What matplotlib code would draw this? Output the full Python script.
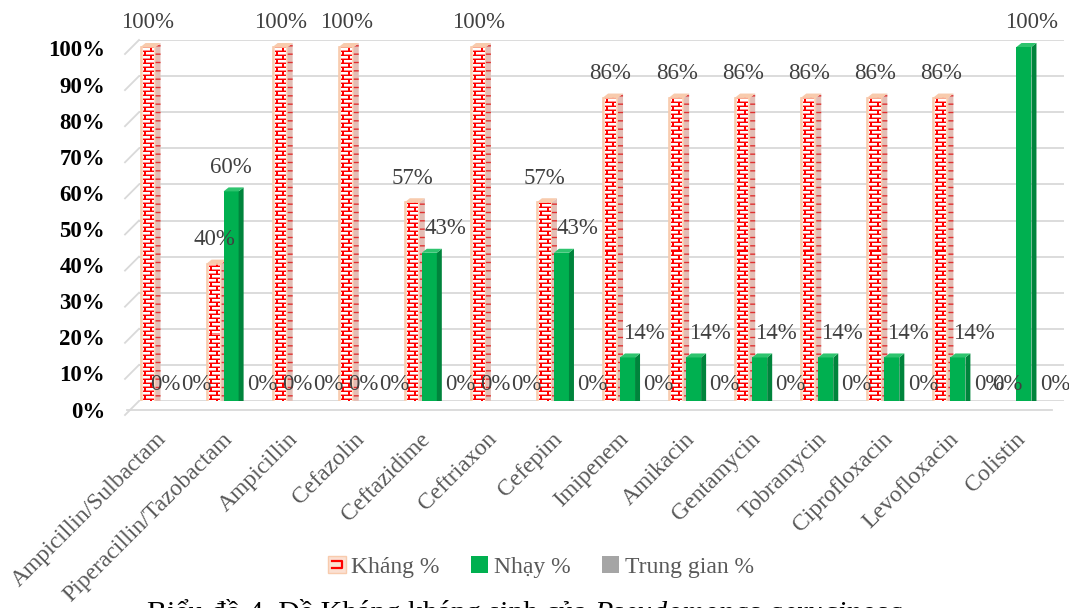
import numpy as np
import matplotlib
matplotlib.use("Agg")
import matplotlib.pyplot as plt
from matplotlib.patches import Polygon, Rectangle
from matplotlib.legend_handler import HandlerBase

# ---- data -------------------------------------------------------------
antibiotics = ["Ampicillin/Sulbactam", "Piperacillin/Tazobactam", "Ampicillin",
               "Cefazolin", "Ceftazidime", "Ceftriaxon", "Cefepim", "Imipenem",
               "Amikacin", "Gentamycin", "Tobramycin", "Ciprofloxacin",
               "Levofloxacin", "Colistin"]
khang = [100, 40, 100, 100, 57, 100, 57, 86, 86, 86, 86, 86, 86, 0]
nhay = [0, 60, 0, 0, 43, 0, 43, 14, 14, 14, 14, 14, 14, 100]
trung_gian = [0, 0, 0, 0, 0, 0, 0, 0, 0, 0, 0, 0, 0, 0]
series_names = ["Kháng %", "Nhạy %", "Trung gian %"]
y_ticks = [0, 10, 20, 30, 40, 50, 60, 70, 80, 90, 100]
caption_plain = "Biểu đồ 4. Đề Kháng kháng sinh của "
caption_italic = "Pseudomonas aeruginosa"

SERIF = "Liberation Serif"
W, H = 1069, 608
fig = plt.figure(figsize=(W / 100, H / 100), dpi=100)

# back wall of the 3-D plot area (pixel geometry)
left_px, right_px, zero_px, top_px = 139, 1064, 401, 40
ax = fig.add_axes([left_px / W, (H - zero_px) / H,
                   (right_px - left_px) / W, (zero_px - top_px) / H])
n = len(antibiotics)
ax.set_xlim(-0.5, n - 0.5)
ax.set_ylim(0, 1)
ax.axis("off")
PX = (right_px - left_px) / n      # pixels per category
PY = (zero_px - top_px) / 1.0      # pixels per 100 %

def xpx(p):
    return p / PX

def ypx(p):
    return p / PY

# gridlines on the back wall, with the side-wall stubs
grid_c = "#D9D9D9"
for t in y_ticks:
    v = t / 100
    ax.plot([-0.5, n - 0.5], [v, v], color=grid_c, lw=1.3, zorder=0,
            solid_capstyle="butt")
    ax.plot([-0.5 - xpx(14), -0.5], [v - ypx(14), v], color=grid_c, lw=1.3,
            zorder=0, clip_on=False)
    ax.text(-0.5 - xpx(34), v - ypx(11), f"{t}%", ha="right", va="center",
            fontsize=16.5, fontweight="bold", family=SERIF, color="black",
            clip_on=False)
# floor front edge
ax.plot([-0.5 - xpx(12), n - 0.5 - xpx(12)], [-ypx(9), -ypx(9)], color=grid_c,
        lw=1.3, zorder=0, clip_on=False)


def brick_texture(h, w):
    """White face with a red brick pattern, h x w pixels."""
    img = np.ones((h, w, 3))
    red = np.array([1.0, 0.0, 0.0])
    pale = np.array([1.0, 0.55, 0.55])
    for r in range(h):
        k = r // 4
        if r % 4 == 0:
            img[r, 2:w - 2] = red
        elif r % 4 == 1:
            img[r, 2:w - 2] = pale
        c = 3 if k % 2 == 0 else 9
        img[r, c:c + 2] = red
    # soft peach tint near the edges
    img[:, :2] = [0.99, 0.86, 0.78]
    img[:, w - 2:] = [0.99, 0.86, 0.78]
    return img[::-1]


bar_w = xpx(15)
step = xpx(17)
shift_x, shift_y = xpx(-7), ypx(-7)
dx, dy = xpx(5), ypx(4)

styles = [
    dict(front=None, side="#E3BDB5", top="#F8CBAD", edge="#F8CBAD"),
    dict(front="#00B050", side="#00843C", top="#2EC46E", edge=None),
    dict(front="#A5A5A5", side="#7F7F7F", top="#BDBDBD", edge=None),
]
label_c = "#404040"
all_series = [khang, nhay, trung_gian]

for i in range(n):
    for s, vals in enumerate(all_series):
        st = styles[s]
        v = vals[i] / 100
        xc = i + shift_x + (s - 1) * step
        x0, x1 = xc - bar_w / 2, xc + bar_w / 2
        y0, y1 = shift_y, shift_y + v
        z = 3 + i * 3 + s
        if v > 0:
            if st["front"] is None:
                hp = max(int(round(v * PY)), 1)
                ax.imshow(brick_texture(hp, 15), extent=(x0, x1, y0, y1),
                          aspect="auto", interpolation="nearest", zorder=z)
                ax.add_patch(Rectangle((x0, y0), bar_w, v, fill=False,
                                       edgecolor=st["edge"], lw=1.2, zorder=z))
            else:
                ax.add_patch(Rectangle((x0, y0), bar_w, v, facecolor=st["front"],
                                       edgecolor="none", zorder=z))
            side = Polygon([(x1, y0), (x1 + dx, y0 + dy), (x1 + dx, y1 + dy),
                            (x1, y1)], closed=True, facecolor=st["side"],
                           edgecolor="none", zorder=z)
            if s == 0:
                side.set_hatch("--")
                side.set_edgecolor("#E03030")
                side.set_linewidth(0)
            ax.add_patch(side)
        top = Polygon([(x0, y1), (x1, y1), (x1 + dx, y1 + dy), (x0 + dx, y1 + dy)],
                      closed=True, facecolor=st["top"] if v > 0 else st["side"],
                      edgecolor="none", zorder=z)
        ax.add_patch(top)

        # data label above the bar
        off = 0
        if s == 1 and 0 < vals[i] < khang[i]:
            off = 16
        elif s == 1 and khang[i] == 0:
            off = 8
        elif s == 2:
            off = 14
        ax.text(xc + xpx(off), y1 + ypx(24), f"{vals[i]}%", ha="center",
                va="center", fontsize=16.5, family=SERIF, color=label_c,
                zorder=100, clip_on=False)

# category labels
for i, name in enumerate(antibiotics):
    ax.text(i + xpx(-9), -ypx(35), name, rotation=45, rotation_mode="anchor",
            ha="right", va="center", fontsize=17, family=SERIF,
            color="#595959", clip_on=False)


# legend
class BrickHandler(HandlerBase):
    def create_artists(self, legend, orig_handle, xdescent, ydescent, width,
                       height, fontsize, trans):
        sq = Rectangle((-xdescent, -ydescent), width, height, facecolor="#FBE0D2",
                       edgecolor="#F8CBAD", lw=1.0, transform=trans)
        x_a, x_b = -xdescent + width * 0.25, -xdescent + width * 0.8
        y_a, y_b = -ydescent + height * 0.3, -ydescent + height * 0.72
        bracket = plt.Line2D([x_a, x_b, x_b, x_a], [y_b, y_b, y_a, y_a],
                             color="red", lw=1.6, transform=trans)
        return [sq, bracket]


class SquareHandler(HandlerBase):
    def create_artists(self, legend, orig_handle, xdescent, ydescent, width,
                       height, fontsize, trans):
        sq = Rectangle((-xdescent, -ydescent), width, height,
                       facecolor=orig_handle.get_facecolor(), edgecolor="none",
                       transform=trans)
        return [sq]


h_k = Rectangle((0, 0), 1, 1, facecolor="#FBE0D2")
h_n = Rectangle((0, 0), 1, 1, facecolor=styles[1]["front"])
h_t = Rectangle((0, 0), 1, 1, facecolor=styles[2]["front"])
fig.legend([h_k, h_n, h_t], series_names, loc="center",
           bbox_to_anchor=(541 / W, (H - 567) / H), ncol=3, frameon=False,
           handlelength=0.75, handleheight=0.75, handletextpad=0.25,
           columnspacing=1.3,
           prop=dict(family=SERIF, size=17),
           labelcolor="#595959",
           handler_map={h_k: BrickHandler(), h_n: SquareHandler(),
                        h_t: SquareHandler()})

# figure caption (partly below the image border)
cap_y = (H - 621) / H
t1 = fig.text(147 / W, cap_y, caption_plain, ha="left", va="baseline",
              fontsize=21.5, family=SERIF, color="black")
fig.canvas.draw()
bb = t1.get_window_extent(renderer=fig.canvas.get_renderer())
fig.text(bb.x1 / W, cap_y, caption_italic, ha="left", va="baseline",
         fontsize=21.5, family=SERIF, style="italic", color="black")

fig.savefig("out.png", dpi=100, facecolor="white")
